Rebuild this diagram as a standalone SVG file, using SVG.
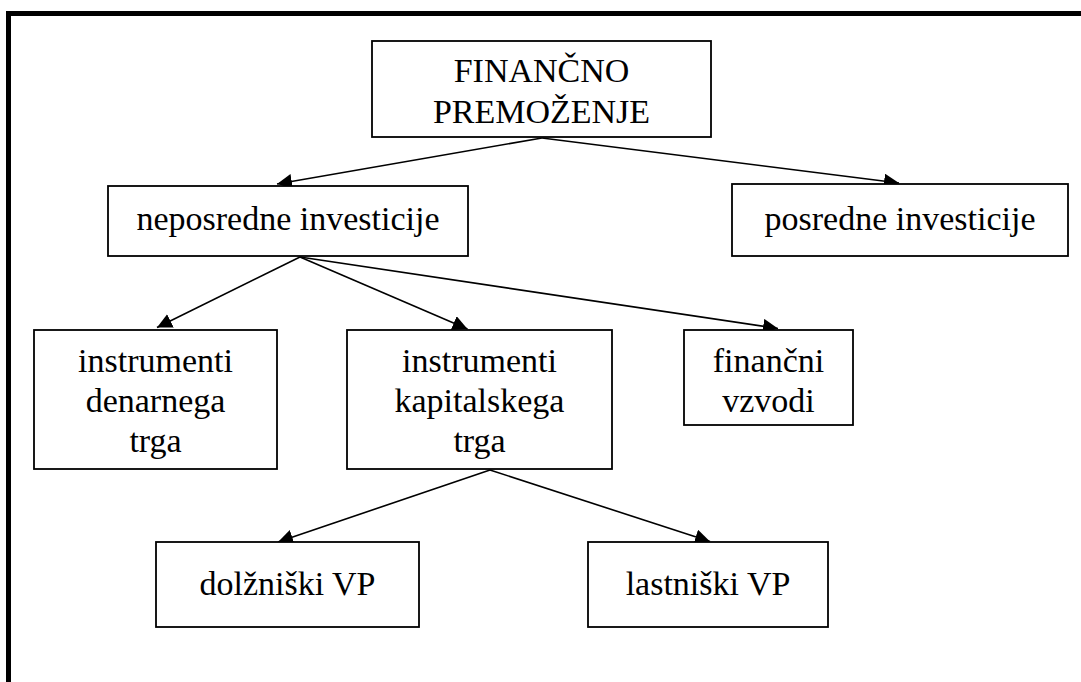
<svg xmlns="http://www.w3.org/2000/svg" width="1081" height="682" viewBox="0 0 1081 682">
<style>
.box{fill:#fff;stroke:#000;stroke-width:1.8}
.lbl{font-family:"Liberation Serif","Times New Roman",serif;font-size:34px;fill:#000;text-anchor:middle}
.con{stroke:#000;stroke-width:1.6;fill:none;marker-end:url(#ah)}
</style>
<defs>
<marker id="ah" markerUnits="userSpaceOnUse" markerWidth="15" markerHeight="15" refX="15" refY="7.5" orient="auto">
<path d="M0,0 L15,7.5 L0,15 Z" fill="#000"/>
</marker>
</defs>
<rect width="1081" height="682" fill="#fff"/>
<g id="frame" stroke="#000" stroke-width="5">
<line x1="6" y1="13.5" x2="1081" y2="13.5"/>
<line x1="8.5" y1="11" x2="8.5" y2="682"/>
</g>
<g id="connectors">
<line class="con" x1="542" y1="138" x2="277" y2="184"/>
<line class="con" x1="542" y1="138" x2="899" y2="183"/>
<line class="con" x1="300" y1="257" x2="157" y2="327.5"/>
<line class="con" x1="300" y1="257" x2="467.5" y2="329"/>
<line class="con" x1="300" y1="257" x2="778" y2="328.5"/>
<line class="con" x1="490" y1="470" x2="278" y2="542"/>
<line class="con" x1="490" y1="470" x2="710" y2="541.5"/>
</g>
<g id="financno">
<rect class="box" x="372" y="41" width="339" height="96"/>
<text class="lbl" x="541.5" y="82">FINANČNO</text>
<text class="lbl" x="541.5" y="123">PREMOŽENJE</text>
</g>
<g id="neposredne">
<rect class="box" x="108" y="186" width="360" height="70"/>
<text class="lbl" x="288" y="230">neposredne investicije</text>
</g>
<g id="posredne">
<rect class="box" x="732" y="184" width="336" height="72"/>
<text class="lbl" x="900" y="230">posredne investicije</text>
</g>
<g id="denarnega">
<rect class="box" x="34" y="330" width="243" height="139"/>
<text class="lbl" x="155.5" y="372">instrumenti</text>
<text class="lbl" x="155.5" y="412">denarnega</text>
<text class="lbl" x="155.5" y="452">trga</text>
</g>
<g id="kapitalskega">
<rect class="box" x="347" y="330" width="265" height="139"/>
<text class="lbl" x="479.5" y="372">instrumenti</text>
<text class="lbl" x="479.5" y="412">kapitalskega</text>
<text class="lbl" x="479.5" y="452">trga</text>
</g>
<g id="vzvodi">
<rect class="box" x="684" y="330" width="169" height="95"/>
<text class="lbl" x="768.5" y="372">finančni</text>
<text class="lbl" x="768.5" y="412">vzvodi</text>
</g>
<g id="dolzniski">
<rect class="box" x="156" y="542" width="263" height="85"/>
<text class="lbl" x="287.5" y="595">dolžniški VP</text>
</g>
<g id="lastniski">
<rect class="box" x="588" y="542" width="240" height="85"/>
<text class="lbl" x="708" y="595">lastniški VP</text>
</g>
</svg>
